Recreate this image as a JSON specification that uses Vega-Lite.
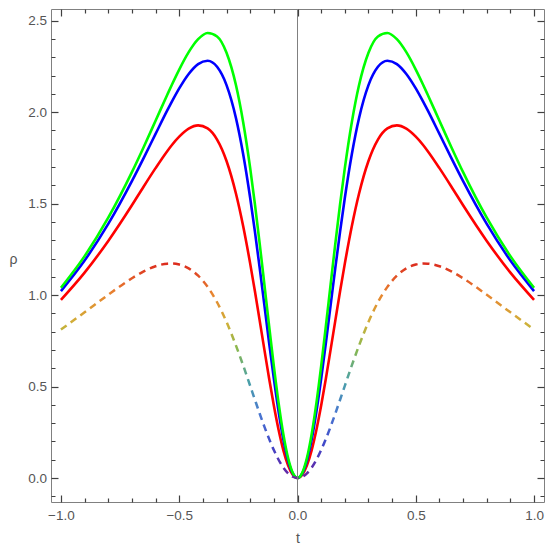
{
  "$schema": "https://vega.github.io/schema/vega-lite/v6.json",
  "width": 493,
  "height": 493,
  "autosize": {"type": "none"},
  "padding": {"left": 51, "top": 9, "right": 6, "bottom": 44},
  "background": "white",
  "resolve": {"axis": {"x": "independent", "y": "independent"}},
  "config": {
    "view": {"stroke": "#808080", "strokeWidth": 1},
    "axis": {
      "grid": false,
      "domain": false,
      "tickColor": "#404040",
      "tickWidth": 1.2,
      "labelColor": "#555555",
      "labelFont": "Liberation Sans",
      "labelFontSize": 13.5,
      "labelOverlap": false,
      "labelFlush": false,
      "titleColor": "#555555",
      "titleFont": "Liberation Sans",
      "titleFontSize": 14,
      "titleFontWeight": "normal"
    }
  },
  "data": {
    "values": [
      {"t": -1, "r": 0.974, "b": 1.022, "g": 1.040, "d": 0.812},
      {"t": -0.9, "r": 1.123, "b": 1.189, "g": 1.213, "d": 0.906},
      {"t": -0.8, "r": 1.296, "b": 1.389, "g": 1.423, "d": 1.002},
      {"t": -0.7, "r": 1.491, "b": 1.623, "g": 1.672, "d": 1.092},
      {"t": -0.65, "r": 1.594, "b": 1.750, "g": 1.810, "d": 1.130},
      {"t": -0.6, "r": 1.694, "b": 1.881, "g": 1.953, "d": 1.158},
      {"t": -0.55, "r": 1.788, "b": 2.011, "g": 2.097, "d": 1.172},
      {"t": -0.53, "r": 1.822, "b": 2.060, "g": 2.153, "d": 1.173},
      {"t": -0.5, "r": 1.866, "b": 2.130, "g": 2.233, "d": 1.167},
      {"t": -0.46, "r": 1.910, "b": 2.209, "g": 2.328, "d": 1.146},
      {"t": -0.42, "r": 1.928, "b": 2.263, "g": 2.399, "d": 1.106},
      {"t": -0.38, "r": 1.911, "b": 2.281, "g": 2.433, "d": 1.045},
      {"t": -0.34, "r": 1.850, "b": 2.248, "g": 2.414, "d": 0.961},
      {"t": -0.3, "r": 1.733, "b": 2.148, "g": 2.325, "d": 0.853},
      {"t": -0.26, "r": 1.554, "b": 1.967, "g": 2.147, "d": 0.724},
      {"t": -0.23, "r": 1.379, "b": 1.773, "g": 1.948, "d": 0.617},
      {"t": -0.2, "r": 1.172, "b": 1.531, "g": 1.694, "d": 0.504},
      {"t": -0.18, "r": 1.021, "b": 1.347, "g": 1.497, "d": 0.428},
      {"t": -0.16, "r": 0.862, "b": 1.150, "g": 1.283, "d": 0.353},
      {"t": -0.14, "r": 0.702, "b": 0.945, "g": 1.058, "d": 0.281},
      {"t": -0.12, "r": 0.544, "b": 0.739, "g": 0.831, "d": 0.214},
      {"t": -0.1, "r": 0.396, "b": 0.543, "g": 0.612, "d": 0.153},
      {"t": -0.08, "r": 0.264, "b": 0.364, "g": 0.411, "d": 0.100},
      {"t": -0.06, "r": 0.153, "b": 0.212, "g": 0.241, "d": 0.057},
      {"t": -0.04, "r": 0.070, "b": 0.097, "g": 0.110, "d": 0.026},
      {"t": -0.02, "r": 0.018, "b": 0.025, "g": 0.028, "d": 0.007},
      {"t": 0, "r": 0, "b": 0, "g": 0, "d": 0},
      {"t": 0.02, "r": 0.018, "b": 0.025, "g": 0.028, "d": 0.007},
      {"t": 0.04, "r": 0.070, "b": 0.097, "g": 0.110, "d": 0.026},
      {"t": 0.06, "r": 0.153, "b": 0.212, "g": 0.241, "d": 0.057},
      {"t": 0.08, "r": 0.264, "b": 0.364, "g": 0.411, "d": 0.100},
      {"t": 0.1, "r": 0.396, "b": 0.543, "g": 0.612, "d": 0.153},
      {"t": 0.12, "r": 0.544, "b": 0.739, "g": 0.831, "d": 0.214},
      {"t": 0.14, "r": 0.702, "b": 0.945, "g": 1.058, "d": 0.281},
      {"t": 0.16, "r": 0.862, "b": 1.150, "g": 1.283, "d": 0.353},
      {"t": 0.18, "r": 1.021, "b": 1.347, "g": 1.497, "d": 0.428},
      {"t": 0.2, "r": 1.172, "b": 1.531, "g": 1.694, "d": 0.504},
      {"t": 0.23, "r": 1.379, "b": 1.773, "g": 1.948, "d": 0.617},
      {"t": 0.26, "r": 1.554, "b": 1.967, "g": 2.147, "d": 0.724},
      {"t": 0.3, "r": 1.733, "b": 2.148, "g": 2.325, "d": 0.853},
      {"t": 0.34, "r": 1.850, "b": 2.248, "g": 2.414, "d": 0.961},
      {"t": 0.38, "r": 1.911, "b": 2.281, "g": 2.433, "d": 1.045},
      {"t": 0.42, "r": 1.928, "b": 2.263, "g": 2.399, "d": 1.106},
      {"t": 0.46, "r": 1.910, "b": 2.209, "g": 2.328, "d": 1.146},
      {"t": 0.5, "r": 1.866, "b": 2.130, "g": 2.233, "d": 1.167},
      {"t": 0.53, "r": 1.822, "b": 2.060, "g": 2.153, "d": 1.173},
      {"t": 0.55, "r": 1.788, "b": 2.011, "g": 2.097, "d": 1.172},
      {"t": 0.6, "r": 1.694, "b": 1.881, "g": 1.953, "d": 1.158},
      {"t": 0.65, "r": 1.594, "b": 1.750, "g": 1.810, "d": 1.130},
      {"t": 0.7, "r": 1.491, "b": 1.623, "g": 1.672, "d": 1.092},
      {"t": 0.8, "r": 1.296, "b": 1.389, "g": 1.423, "d": 1.002},
      {"t": 0.9, "r": 1.123, "b": 1.189, "g": 1.213, "d": 0.906},
      {"t": 1, "r": 0.974, "b": 1.022, "g": 1.040, "d": 0.812}
    ]
  },
  "layer": [
    {
      "mark": {"type": "line", "interpolate": "monotone", "strokeWidth": 2.6, "color": "#ff0000"},
      "encoding": {
        "x": {
          "field": "t", "type": "quantitative",
          "scale": {"domain": [-1.042, 1.042], "nice": false, "zero": false},
          "axis": {
            "orient": "bottom",
            "offset": -7,
            "values": [-1, -0.9, -0.8, -0.7, -0.6, -0.5, -0.4, -0.3, -0.2, -0.1, 0, 0.1, 0.2, 0.3, 0.4, 0.5, 0.6, 0.7, 0.8, 0.9, 1],
            "tickSize": 7,
            "tickDash": {"condition": {"test": "abs(datum.value*2-round(datum.value*2))<0.001", "value": [7, 0]}, "value": [0, 3, 4, 0]},
            "labelExpr": "abs(datum.value*2-round(datum.value*2))<0.001 ? format(datum.value,'.1f') : ''",
            "labelPadding": 6,
            "title": "t",
            "titleY": 43,
            "titleBaseline": "middle"
          }
        },
        "y": {
          "field": "r", "type": "quantitative",
          "scale": {"domain": [-0.131, 2.564], "nice": false, "zero": false},
          "axis": {
            "orient": "left",
            "offset": -7,
            "values": [-0.1, 0, 0.1, 0.2, 0.3, 0.4, 0.5, 0.6, 0.7, 0.8, 0.9, 1, 1.1, 1.2, 1.3, 1.4, 1.5, 1.6, 1.7, 1.8, 1.9, 2, 2.1, 2.2, 2.3, 2.4, 2.5],
            "tickSize": 7,
            "tickDash": {"condition": {"test": "abs(datum.value*2-round(datum.value*2))<0.001", "value": [7, 0]}, "value": [0, 3, 4, 0]},
            "labelExpr": "abs(datum.value*2-round(datum.value*2))<0.001 ? format(datum.value,'.1f') : ''",
            "labelPadding": 4.5,
            "title": "ρ",
            "titleAngle": 0,
            "titleX": -45,
            "titleY": 250,
            "titleAlign": "center",
            "titleBaseline": "middle"
          }
        }
      }
    },
    {
      "mark": {"type": "line", "interpolate": "monotone", "strokeWidth": 2.6, "color": "#0000ff"},
      "encoding": {
        "x": {
          "field": "t", "type": "quantitative",
          "scale": {"domain": [-1.042, 1.042], "nice": false, "zero": false},
          "axis": {
            "orient": "top",
            "offset": -7,
            "values": [-1, -0.9, -0.8, -0.7, -0.6, -0.5, -0.4, -0.3, -0.2, -0.1, 0, 0.1, 0.2, 0.3, 0.4, 0.5, 0.6, 0.7, 0.8, 0.9, 1],
            "tickSize": 7,
            "tickDash": {"condition": {"test": "abs(datum.value*2-round(datum.value*2))<0.001", "value": [7, 0]}, "value": [0, 3, 4, 0]},
            "labels": false,
            "title": null
          }
        },
        "y": {
          "field": "b", "type": "quantitative",
          "scale": {"domain": [-0.131, 2.564], "nice": false, "zero": false},
          "axis": {
            "orient": "right",
            "offset": -7,
            "values": [-0.1, 0, 0.1, 0.2, 0.3, 0.4, 0.5, 0.6, 0.7, 0.8, 0.9, 1, 1.1, 1.2, 1.3, 1.4, 1.5, 1.6, 1.7, 1.8, 1.9, 2, 2.1, 2.2, 2.3, 2.4, 2.5],
            "tickSize": 7,
            "tickDash": {"condition": {"test": "abs(datum.value*2-round(datum.value*2))<0.001", "value": [7, 0]}, "value": [0, 3, 4, 0]},
            "labels": false,
            "title": null
          }
        }
      }
    },
    {
      "mark": {"type": "line", "interpolate": "monotone", "strokeWidth": 2.6, "color": "#00ff00"},
      "encoding": {
        "x": {"field": "t", "type": "quantitative", "axis": null},
        "y": {"field": "g", "type": "quantitative", "axis": null}
      }
    },
    {
      "mark": {
        "type": "line",
        "interpolate": "monotone",
        "strokeWidth": 2.5,
        "strokeDash": [7, 5],
        "stroke": {
          "gradient": "linear",
          "x1": 0, "y1": 1, "x2": 0, "y2": 0,
          "stops": [
            {"offset": 0, "color": "#6a22a0"},
            {"offset": 0.15, "color": "#4046c8"},
            {"offset": 0.3, "color": "#4a78d0"},
            {"offset": 0.45, "color": "#4aa0a8"},
            {"offset": 0.6, "color": "#88b850"},
            {"offset": 0.72, "color": "#d0b038"},
            {"offset": 0.86, "color": "#e88430"},
            {"offset": 1, "color": "#dc2c1e"}
          ]
        }
      },
      "encoding": {
        "x": {"field": "t", "type": "quantitative", "axis": null},
        "y": {"field": "d", "type": "quantitative", "axis": null}
      }
    },
    {
      "mark": {"type": "rule", "color": "#808080", "strokeWidth": 1},
      "encoding": {
        "x": {"datum": 0, "type": "quantitative", "axis": null}
      }
    }
  ]
}
